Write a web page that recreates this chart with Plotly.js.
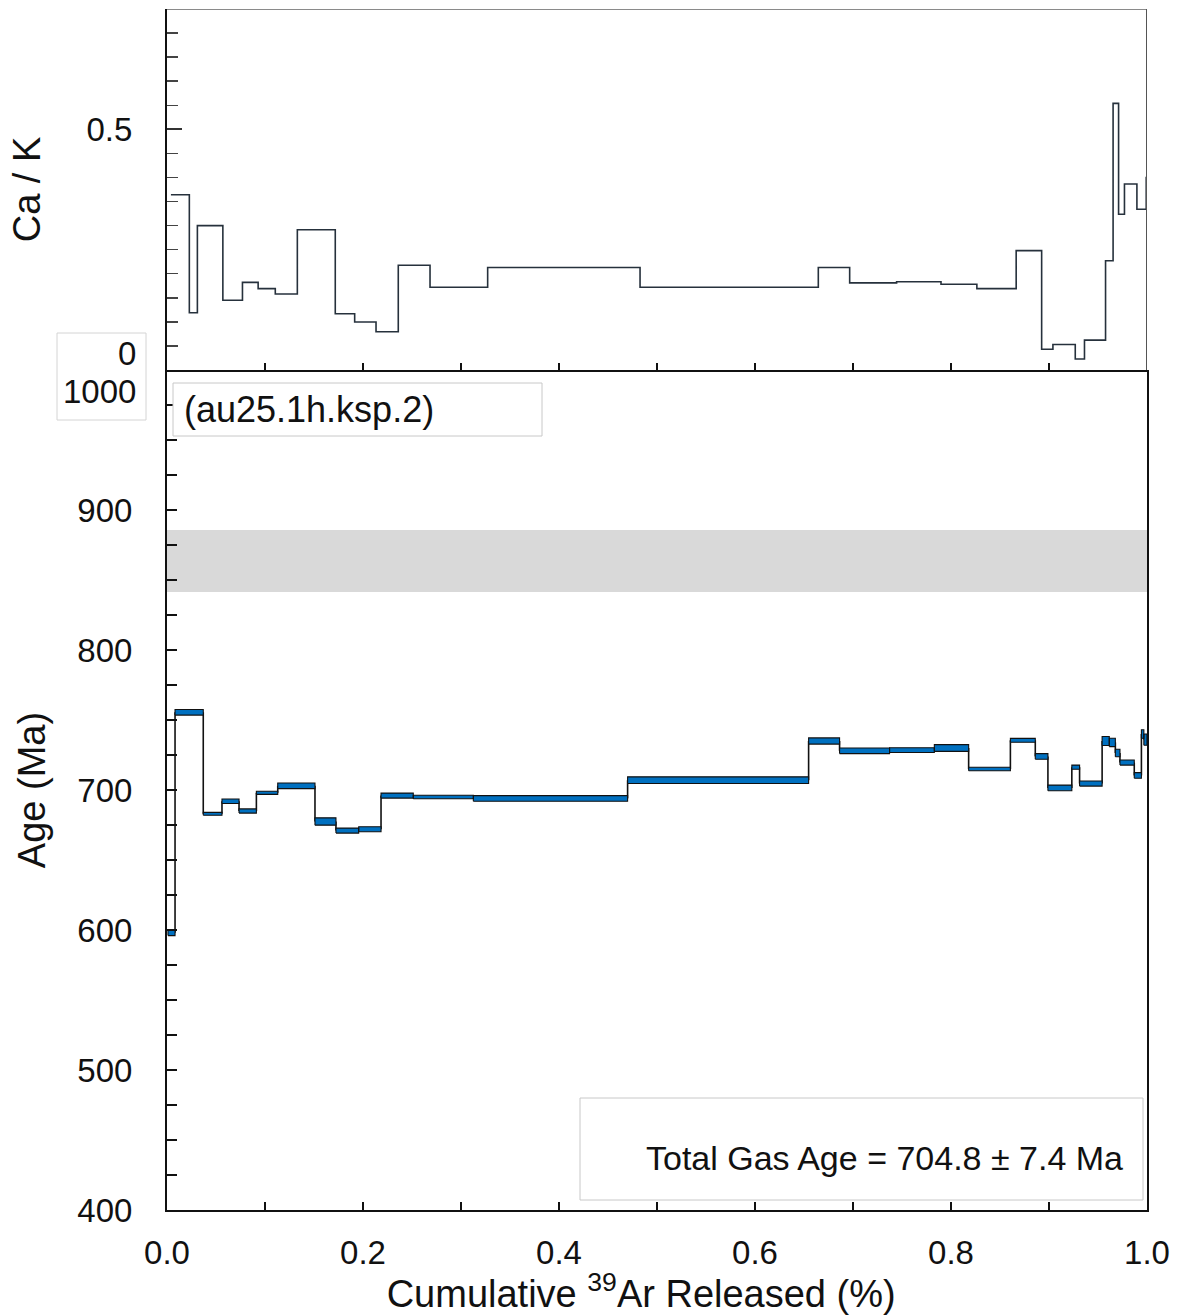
<!DOCTYPE html>
<html>
<head>
<meta charset="utf-8">
<script src="https://cdn.plot.ly/plotly-3.0.1.min.js"></script>
<style>html,body{margin:0;padding:0;background:#fff;}#chart{width:1182px;height:1315px;}</style>
</head>
<body>
<div id="chart"></div>
<script>
// ---- Ca/K step data (cumulative 39Ar fraction edges, Ca/K value per step)
const caEdges = [0.004, 0.0228, 0.031, 0.057, 0.077, 0.093, 0.1105, 0.133, 0.1717, 0.1915, 0.2133, 0.236, 0.2684, 0.3272, 0.4827, 0.6646, 0.6966, 0.7445, 0.7898, 0.8264, 0.8665, 0.8925, 0.904, 0.9268, 0.9362, 0.9577, 0.9654, 0.971, 0.977, 0.9897, 0.9992, 1.0];
const caK = [0.364, 0.119, 0.300, 0.145, 0.182, 0.169, 0.158, 0.2915, 0.117, 0.0997, 0.0796, 0.2175, 0.172, 0.213, 0.172, 0.213, 0.181, 0.1835, 0.178, 0.169, 0.248, 0.043, 0.053, 0.023, 0.062, 0.227, 0.554, 0.3235, 0.3865, 0.334, 0.40];

// ---- Age spectrum data (edges, age in Ma, 1-sigma error in Ma)
const ageEdges = [0.001, 0.0082, 0.037, 0.0561, 0.0735, 0.0912, 0.113, 0.151, 0.1724, 0.1956, 0.2184, 0.2513, 0.3126, 0.47, 0.6547, 0.6863, 0.7373, 0.783, 0.818, 0.8606, 0.886, 0.8989, 0.9233, 0.9312, 0.9542, 0.9615, 0.9677, 0.9724, 0.987, 0.9943, 0.9968, 1.0];
const ages = [598, 755.5, 683, 692, 685, 698, 703, 677.5, 671, 672, 696, 695, 694, 707, 735, 728, 728.5, 730, 715, 735.5, 724, 701.5, 716.3, 704.6, 735, 734, 726.4, 719.6, 710.4, 740, 736];
const ageErr = [2, 2, 1, 1.6, 1.5, 1.1, 2, 2.6, 1.8, 1.8, 1.8, 1.2, 2, 2.4, 2.2, 2, 1.7, 2.4, 1.2, 1.4, 2, 2, 1.5, 1.8, 3.2, 3, 2.7, 1.8, 2, 3, 4];

// ---- Shaded reference band (Ma)
const bandAges = [841.4, 885.7];

// ---- Tick labels and texts
const ageTicks = [400, 500, 600, 700, 800, 900];
const caTicks = [0.5];
const sampleLabel = '(au25.1h.ksp.2)';
const totalGasText = 'Total Gas Age = 704.8 \u00b1 7.4 Ma';

// ---- build traces
const caX = caEdges.slice();
const caY = caK.concat([caK[caK.length - 1]]);

const boxX = [], boxY = [];
for (let i = 0; i < ages.length; i++) {
  const x0 = ageEdges[i], x1 = ageEdges[i + 1];
  const lo = ages[i] - ageErr[i], hi = ages[i] + ageErr[i];
  boxX.push(x0, x1, x1, x0, x0, null);
  boxY.push(lo, lo, hi, hi, lo, null);
}
const conX = [], conY = [];
for (let i = 0; i < ages.length - 1; i++) {
  conX.push(ageEdges[i + 1], ageEdges[i + 1], null);
  conY.push(ages[i], ages[i + 1], null);
}

const W = 1182, H = 1315;
const px = v => v / W;
const py = v => 1 - v / H;
const FONT = 'Liberation Sans, Arial, sans-serif';
const INK = '#111111';
const TICK = 33;

const traces = [
  {x: caX, y: caY, xaxis: 'x2', yaxis: 'y2', type: 'scatter', mode: 'lines',
   line: {shape: 'hv', color: '#26313c', width: 1.6}, hoverinfo: 'skip'},
  {x: conX, y: conY, xaxis: 'x', yaxis: 'y', type: 'scatter', mode: 'lines',
   line: {color: INK, width: 1.6}, hoverinfo: 'skip'},
  {x: boxX, y: boxY, xaxis: 'x', yaxis: 'y', type: 'scatter', mode: 'lines',
   fill: 'toself', fillcolor: '#0070c0', line: {color: INK, width: 1.1}, hoverinfo: 'skip'}
];

const xDom = [px(167), px(1147)];
const layout = {
  width: W, height: H,
  margin: {l: 0, r: 0, t: 0, b: 0},
  paper_bgcolor: '#ffffff', plot_bgcolor: 'rgba(0,0,0,0)',
  showlegend: false,
  font: {family: FONT, color: INK, size: TICK},
  xaxis: {
    domain: xDom, anchor: 'y', range: [0, 1],
    showline: true, linecolor: INK, linewidth: 2,
    ticks: 'inside', ticklen: 8, tickwidth: 2, tickcolor: INK,
    dtick: 0.2, tick0: 0, tickformat: '.1f',
    minor: {dtick: 0.1, tick0: 0, ticks: 'inside', ticklen: 8, tickwidth: 2, tickcolor: INK},
    showgrid: false, zeroline: false,
    tickfont: {size: TICK, family: FONT, color: INK},
    ticklabelstandoff: 12,
    title: {text: 'Cumulative <sup>39</sup>Ar Released (%)&nbsp;&nbsp;&nbsp;', font: {size: 38, family: FONT, color: INK}, standoff: 2}
  },
  yaxis: {
    domain: [py(1210), py(370)], anchor: 'x', range: [400, 1000],
    showline: true, linecolor: INK, linewidth: 2, mirror: true,
    ticks: 'inside', ticklen: 10, tickwidth: 2, tickcolor: INK,
    tickmode: 'array', tickvals: ageTicks,
    minor: {dtick: 25, tick0: 400, ticks: 'inside', ticklen: 10, tickwidth: 2, tickcolor: INK},
    showgrid: false, zeroline: false,
    tickfont: {size: TICK, family: FONT, color: INK},
    ticklabelstandoff: 26,
    title: {text: 'Age (Ma)', font: {size: 38, family: FONT, color: INK}, standoff: 20}
  },
  xaxis2: {
    domain: xDom, anchor: 'y2', range: [0, 1],
    showline: true, linecolor: INK, linewidth: 2,
    ticks: 'inside', ticklen: 7, tickwidth: 2, tickcolor: INK,
    dtick: 0.1, tick0: 0, showticklabels: false,
    showgrid: false, zeroline: false
  },
  yaxis2: {
    domain: [py(370), py(9)], anchor: 'x2', range: [0, 0.75],
    showline: true, linecolor: INK, linewidth: 2,
    ticks: 'inside', ticklen: 15, tickwidth: 2, tickcolor: '#333',
    tickmode: 'array', tickvals: caTicks,
    minor: {dtick: 0.05, tick0: 0, ticks: 'inside', ticklen: 11, tickwidth: 1.5, tickcolor: '#444'},
    showgrid: false, zeroline: false,
    tickfont: {size: TICK, family: FONT, color: INK},
    ticklabelstandoff: 26,
    title: {text: 'Ca / K', font: {size: 38, family: FONT, color: INK}, standoff: 34}
  },
  shapes: [
    {type: 'rect', xref: 'x', yref: 'y', x0: 0, x1: 1, y0: bandAges[0], y1: bandAges[1],
     fillcolor: '#d9d9d9', line: {width: 0}, layer: 'below'},
    {type: 'line', xref: 'x2', yref: 'y2', x0: 0, x1: 1, y0: 0.75, y1: 0.75,
     line: {color: '#8a8a8a', width: 2}},
    {type: 'line', xref: 'x2', yref: 'y2', x0: 1, x1: 1, y0: 0, y1: 0.75,
     line: {color: '#555555', width: 2}},
    {type: 'rect', xref: 'paper', yref: 'paper', x0: px(57), x1: px(146), y0: py(420), y1: py(333),
     fillcolor: '#ffffff', line: {color: '#d4d4d4', width: 1}},
    {type: 'rect', xref: 'paper', yref: 'paper', x0: px(173), x1: px(542), y0: py(436), y1: py(383),
     fillcolor: '#ffffff', line: {color: '#c8c8c8', width: 1}},
    {type: 'rect', xref: 'paper', yref: 'paper', x0: px(580), x1: px(1143), y0: py(1200), y1: py(1098),
     fillcolor: '#ffffff', line: {color: '#c8c8c8', width: 1}}
  ],
  annotations: [
    {xref: 'paper', yref: 'paper', x: px(138), y: py(353), xanchor: 'right', yanchor: 'middle',
     text: '0', showarrow: false, font: {size: TICK, family: FONT, color: INK}},
    {xref: 'paper', yref: 'paper', x: px(138), y: py(392), xanchor: 'right', yanchor: 'middle',
     text: '1000', showarrow: false, font: {size: TICK, family: FONT, color: INK}},
    {xref: 'paper', yref: 'paper', x: px(182), y: py(409), xanchor: 'left', yanchor: 'middle',
     text: sampleLabel, showarrow: false, font: {size: 36, family: FONT, color: INK}},
    {xref: 'paper', yref: 'paper', x: px(1125), y: py(1158), xanchor: 'right', yanchor: 'middle',
     text: totalGasText, showarrow: false, font: {size: 34, family: FONT, color: INK}}
  ]
};

Plotly.newPlot('chart', traces, layout, {staticPlot: true, displayModeBar: false});
</script>
</body>
</html>
